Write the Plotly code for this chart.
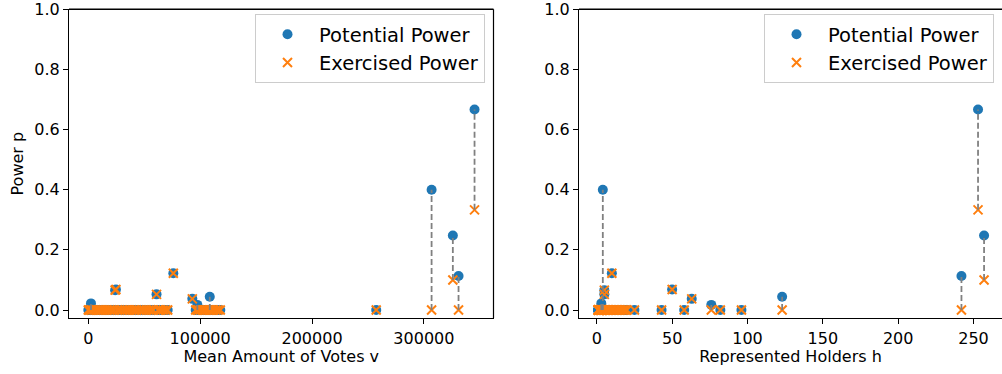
import plotly.graph_objects as go

# Each holder: mean votes v, represented holders h, potential power, exercised power
votes = [345300, 306900, 325900, 331000, 76000, 24700, 24000, 61000, 93000, 97500, 108600, 2400,
         0, 1000, 3000, 5000, 7000, 9000, 11000, 13000, 15000, 17000,
         19000, 21000, 23000, 26000, 28000, 30600, 33000, 35000, 37000, 39000,
         41000, 43000, 45500, 48000, 50000, 52000, 54000, 56000, 58000, 62500,
         63000, 65000, 67000, 69300, 71000, 96000, 98000, 100000, 102000, 104000,
         106000, 108000, 110000, 112000, 114000, 116000, 118000, 257400]
holders = [253, 4, 257, 242, 10, 50, 5, 5, 63, 76, 123, 3,
           1, 1, 2, 1, 3, 2, 1, 4, 2, 6,
           3, 8, 5, 25, 7, 9, 1, 2, 11, 3,
           43, 4, 13, 2, 15, 1, 6, 12, 58, 3,
           17, 2, 5, 19, 1, 82, 2, 8, 14, 1,
           3, 96, 10, 20, 16, 4, 18, 7]
potential = [0.667, 0.400, 0.248, 0.113, 0.122, 0.068, 0.066, 0.052, 0.037, 0.017, 0.044, 0.022,
             0, 0, 0, 0, 0, 0, 0, 0, 0, 0,
             0, 0, 0, 0, 0, 0, 0, 0, 0, 0,
             0, 0, 0, 0, 0, 0, 0, 0, 0, 0,
             0, 0, 0, 0, 0, 0, 0, 0, 0, 0,
             0, 0, 0, 0, 0, 0, 0, 0]
exercised = [0.333, 0.0, 0.100, 0.0, 0.122, 0.068, 0.066, 0.052, 0.037, 0.0, 0.0, 0.0,
             0, 0, 0, 0, 0, 0, 0, 0, 0, 0,
             0, 0, 0, 0, 0, 0, 0, 0, 0, 0,
             0, 0, 0, 0, 0, 0, 0, 0, 0, 0,
             0, 0, 0, 0, 0, 0, 0, 0, 0, 0,
             0, 0, 0, 0, 0, 0, 0, 0]

y_ticks = [0.0, 0.2, 0.4, 0.6, 0.8, 1.0]
v_ticks = [0, 100000, 200000, 300000]
h_ticks = [0, 50, 100, 150, 200, 250]

BLUE = '#1f77b4'
ORANGE = '#ff7f0e'
FONT = 'DejaVu Sans'

fig = go.Figure()
for xs, xa, ya, leg in [(votes, 'x', 'y', 'legend'), (holders, 'x2', 'y2', 'legend2')]:
    fig.add_trace(go.Scatter(x=xs, y=potential, mode='markers', name='Potential Power',
                             marker=dict(color=BLUE, size=10, symbol='circle'),
                             xaxis=xa, yaxis=ya, legend=leg))
    fig.add_trace(go.Scatter(x=xs, y=exercised, mode='markers', name='Exercised Power',
                             marker=dict(color=ORANGE, size=9, symbol='x-thin',
                                         line=dict(color=ORANGE, width=2)),
                             xaxis=xa, yaxis=ya, legend=leg))
    lx, ly = [], []
    for x, p, e in zip(xs, potential, exercised):
        if p != e:
            lx += [x, x, None]
            ly += [e, p, None]
    fig.add_trace(go.Scatter(x=lx, y=ly, mode='lines', showlegend=False,
                             line=dict(color='gray', width=1.8, dash='6px,3px'),
                             xaxis=xa, yaxis=ya))

axis_common = dict(showline=True, linecolor='black', linewidth=1, ticks='outside',
                   ticklen=5, tickcolor='black', showgrid=False, zeroline=False, mirror=False,
                   ticklabeloverflow='allow',
                   tickfont=dict(family=FONT, size=16, color='black'), automargin=False)

TOP = 1 - 9 / 374
BOT = 1 - 318.3 / 374
YDOM = [BOT, TOP]
YRANGE = [-0.0276, 1.001]
L1, R1 = 69 / 1002, 493.5 / 1002
L2 = 579 / 1002
TOPLINE = 1 - 9.3 / 374

fig.update_layout(
    width=1002, height=374,
    margin=dict(l=0, r=0, t=0, b=0),
    plot_bgcolor='white', paper_bgcolor='white',
    font=dict(family=FONT, size=16, color='black'),
    xaxis=dict(domain=[L1, R1], range=[-17250, 362250],
               tickvals=v_ticks, ticktext=[str(t) for t in v_ticks],
               title=dict(text='Mean Amount of Votes v', font=dict(family=FONT, size=16), standoff=4),
               anchor='y', **axis_common),
    yaxis=dict(domain=YDOM, range=YRANGE,
               tickvals=y_ticks, ticktext=['%.1f' % t for t in y_ticks],
               title=dict(text='Power p', font=dict(family=FONT, size=16), standoff=6),
               anchor='x', **axis_common),
    xaxis2=dict(domain=[L2, 1.0], range=[-11.8, 268.9],
                tickvals=h_ticks, ticktext=[str(t) for t in h_ticks],
                title=dict(text='Represented Holders h', font=dict(family=FONT, size=16), standoff=4),
                anchor='y2', **axis_common),
    yaxis2=dict(domain=YDOM, range=YRANGE,
                tickvals=y_ticks, ticktext=['%.1f' % t for t in y_ticks],
                anchor='x2', **axis_common),
    legend=dict(x=485 / 1002, y=1 - 14 / 374, xanchor='right', yanchor='top', itemwidth=53,
                bgcolor='rgba(255,255,255,0.8)', bordercolor='#cccccc', borderwidth=1,
                font=dict(family=FONT, size=19.5, color='black')),
    legend2=dict(x=994 / 1002, y=1 - 14 / 374, xanchor='right', yanchor='top', itemwidth=53,
                 bgcolor='rgba(255,255,255,0.8)', bordercolor='#cccccc', borderwidth=1,
                 font=dict(family=FONT, size=19.5, color='black')),
    shapes=[
        # right spine of the left panel
        dict(type='line', xref='paper', yref='paper', x0=R1, x1=R1, y0=BOT, y1=TOPLINE,
             line=dict(color='black', width=1.2), layer='above'),
        # top spines
        dict(type='line', xref='paper', yref='paper', x0=L1, x1=R1, y0=TOPLINE, y1=TOPLINE,
             line=dict(color='black', width=1.5), layer='above'),
        dict(type='line', xref='paper', yref='paper', x0=L2, x1=1.0, y0=TOPLINE, y1=TOPLINE,
             line=dict(color='black', width=1.5), layer='above'),
    ],
)

fig.write_html('out.html')
